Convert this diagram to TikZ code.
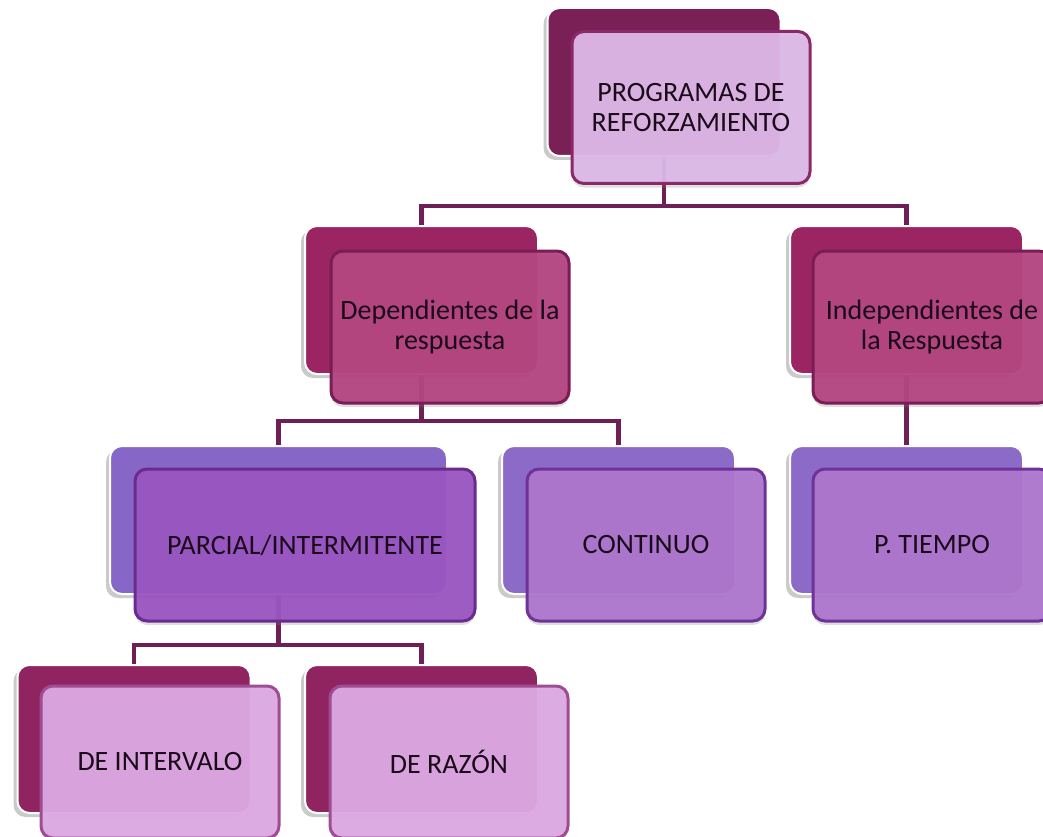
\documentclass[tikz,border=0pt]{standalone}
\usepackage{fontspec}
\setmainfont{Carlito}
\usetikzlibrary{shadows}

\definecolor{rootBack}{HTML}{7B1F57}
\definecolor{rootFront}{HTML}{DDB8E7}
\definecolor{rootEdge}{HTML}{8A2868}
\definecolor{depBack}{HTML}{9B2462}
\definecolor{depFront}{HTML}{B44580}
\definecolor{depEdge}{HTML}{7A1D57}
\definecolor{parBack}{HTML}{8666C6}
\definecolor{parFront}{HTML}{9A55C1}
\definecolor{parEdge}{HTML}{6A2B8E}
\definecolor{conBack}{HTML}{8C6BC8}
\definecolor{conFront}{HTML}{AC76CD}
\definecolor{conEdge}{HTML}{6F3296}
\definecolor{leafBack}{HTML}{8F2461}
\definecolor{leafFront}{HTML}{DDA9E3}
\definecolor{leafEdge}{HTML}{A04C92}
\definecolor{linkCol}{HTML}{6E1F55}
\definecolor{txtCol}{HTML}{1A0A1A}

\pgfdeclarelayer{bg}
\pgfsetlayers{bg,main}

\tikzset{
  backbox/.style={rounded corners=12pt, minimum width=233pt, minimum height=148pt,
    draw=white, line width=2pt, fill=#1,
    drop shadow={shadow xshift=-4pt, shadow yshift=-4pt, opacity=0.35, fill=black!60}},
  frontbox/.style n args={2}{rounded corners=12pt, minimum width=238pt, minimum height=152pt,
    draw=#2, line width=3pt, fill=#1, fill opacity=0.95, text opacity=1,
    text=txtCol, align=center, font=\fontsize{28}{29.5}\selectfont,
    drop shadow={shadow xshift=0pt, shadow yshift=-4pt, opacity=0.25, fill=black!50}},
  link/.style={draw=linkCol, line width=4.5pt, line join=miter}
}

\begin{document}
\begin{tikzpicture}[x=1pt,y=-1pt]
\useasboundingbox (0,0) rectangle (1043,837);

% level 0
\node[backbox=rootBack] (rootB) at (664,82) {};
\node[frontbox={rootFront}{rootEdge}] (root) at (691,107.5) {PROGRAMAS DE\\REFORZAMIENTO};

% level 1
\node[backbox=depBack] (depB) at (421.5,300) {};
\node[frontbox={depFront}{depEdge}] (dep) at (450,327) {Dependientes de la\\respuesta};
\node[backbox=depBack] (indB) at (906.5,300) {};
\node[frontbox={depFront}{depEdge}] (ind) at (932,327) {Independientes de\\la Respuesta};

% level 2
\node[backbox=parBack, minimum width=337pt] (parB) at (278.5,520) {};
\node[frontbox={parFront}{parEdge}, minimum width=340pt] (par) at (305,545) {PARCIAL/INTERMITENTE};
\node[backbox=conBack] (conB) at (618.5,520) {};
\node[frontbox={conFront}{conEdge}] (con) at (646,545) {CONTINUO};
\node[backbox=conBack] (tieB) at (906.5,520) {};
\node[frontbox={conFront}{conEdge}] (tie) at (932,545) {P.\ TIEMPO};

% level 3
\node[backbox=leafBack] (intB) at (134,739) {};
\node[frontbox={leafFront}{leafEdge}] (int) at (160,762) {DE INTERVALO};
\node[backbox=leafBack] (razB) at (421.5,739) {};
\node[frontbox={leafFront}{leafEdge}] (raz) at (449,762) {DE RAZÓN};

% connectors, kept under the boxes
\coordinate (bus1) at (0,206);
\coordinate (bus2) at (0,421);
\coordinate (bus3) at (0,645);
\begin{pgfonlayer}{bg}
\draw[link] (rootB.south) -- (rootB.south |- bus1) -| (depB.north);
\draw[link] (rootB.south |- bus1) -| (indB.north);
\draw[link] (depB.south) -- (depB.south |- bus2) -| (parB.north);
\draw[link] (depB.south |- bus2) -| (conB.north);
\draw[link] (indB.south) -- (tieB.north);
\draw[link] (parB.south) -- (parB.south |- bus3) -| (intB.north);
\draw[link] (parB.south |- bus3) -| (razB.north);
\end{pgfonlayer}
\end{tikzpicture}
\end{document}
